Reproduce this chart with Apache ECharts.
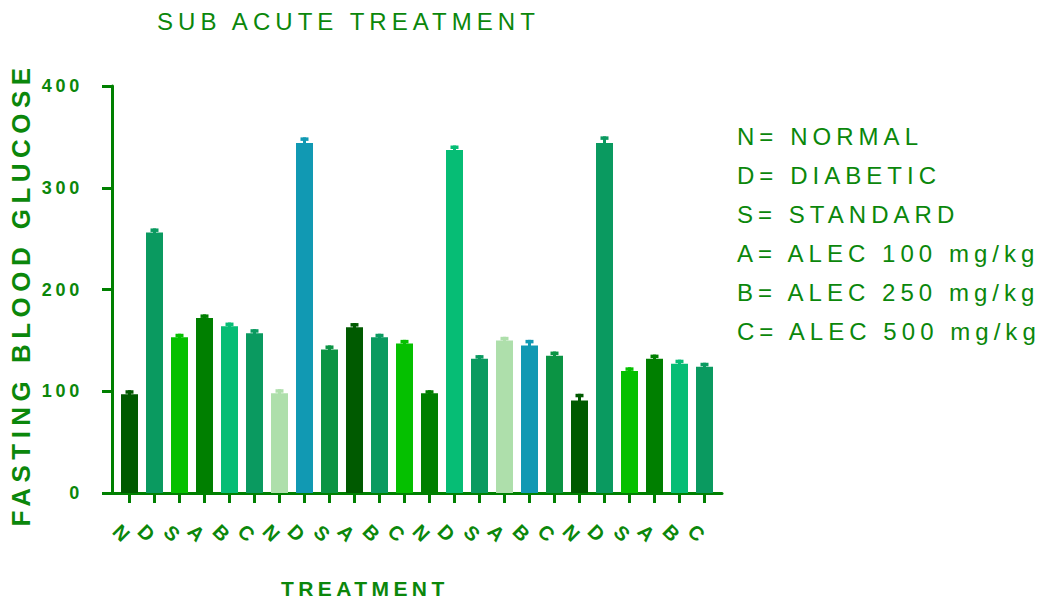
<!DOCTYPE html>
<html>
<head>
<meta charset="utf-8">
<title>Sub acute treatment – fasting blood glucose</title>
<script src="https://cdn.jsdelivr.net/npm/echarts@6/dist/echarts.min.js"></script>
<style>
  html, body { margin: 0; padding: 0; background: #ffffff; }
  #chart { width: 1040px; height: 601px; }
  /* widely tracked lettering used throughout the figure */
  #chart text { letter-spacing: 0.21em; }
</style>
</head>
<body>
<div id="chart"></div>
<script>
// Treatment groups, four blocks of six
const groups = ['N', 'D', 'S', 'A', 'B', 'C',
                'N', 'D', 'S', 'A', 'B', 'C',
                'N', 'D', 'S', 'A', 'B', 'C',
                'N', 'D', 'S', 'A', 'B', 'C'];

// Mean fasting blood glucose per group
const glucose = [97, 256, 153, 172, 164, 157,
                 98, 344, 141, 163, 153, 147,
                 98, 337, 132, 150, 145, 135,
                 91, 344, 120, 132, 127, 124];

// Standard error of each mean
const sem = [4, 4, 3.5, 3.5, 3.5, 4,
             4, 5.5, 4, 4, 3.5, 3.5,
             3, 4.5, 3.5, 3.5, 5.5, 4,
             6.5, 6.5, 3.5, 4, 4, 4];

const yTicks = [0, 100, 200, 300, 400];

const keyLines = ['N= NORMAL', 'D= DIABETIC', 'S= STANDARD',
                  'A= ALEC 100 mg/kg', 'B= ALEC 250 mg/kg', 'C= ALEC 500 mg/kg'];

// Repeating bar colour cycle
const palette = ['#005a00', '#0a9a60', '#05c000', '#007f00', '#06bd75',
                 '#0a9a60', '#aedfab', '#1199b3', '#0b9444'];

const AXIS = '#008000';
const TEXT = '#0b870b';
const FONT = 'Liberation Sans';

const colorOf = i => palette[i % palette.length];

const chart = echarts.init(document.getElementById('chart'), null, { renderer: 'svg' });

chart.setOption({
  animation: false,
  backgroundColor: '#ffffff',
  textStyle: { fontFamily: FONT },
  title: [
    {
      text: 'SUB ACUTE TREATMENT',
      left: 157, top: 9, padding: 0,
      textStyle: { color: TEXT, fontSize: 24, fontWeight: 'normal', fontFamily: FONT }
    },
    {
      text: 'TREATMENT',
      left: 281, top: 578, padding: 0,
      textStyle: { color: TEXT, fontSize: 21, fontWeight: 'bold', fontFamily: FONT }
    },
    {
      text: keyLines.join('\n'),
      left: 737, top: 117, padding: 0,
      textStyle: { color: TEXT, fontSize: 24, fontWeight: 'normal', lineHeight: 39, fontFamily: FONT }
    }
  ],
  grid: [
    // plotting area for the bars (category bands)
    { left: 117, width: 600, top: 86, height: 407 },
    // frame carrying the axis lines, slightly wider than the bands
    { left: 112, width: 610, top: 86, height: 407 }
  ],
  xAxis: [
    {
      gridIndex: 0,
      type: 'category',
      data: groups,
      axisLine: { show: false },
      axisTick: { show: true, alignWithLabel: true, length: 10, lineStyle: { color: AXIS, width: 3 } },
      axisLabel: {
        interval: 0, rotate: -45, margin: 48,
        align: 'right', verticalAlign: 'middle',
        color: TEXT, fontSize: 20, fontWeight: 'bold', fontFamily: FONT
      },
      splitLine: { show: false }
    },
    {
      gridIndex: 1,
      type: 'value', min: 0, max: 1,
      axisLine: { show: true, lineStyle: { color: AXIS, width: 3 } },
      axisTick: { show: false },
      axisLabel: { show: false },
      splitLine: { show: false }
    }
  ],
  yAxis: [
    {
      gridIndex: 0,
      type: 'value', min: 0, max: 400,
      show: false
    },
    {
      gridIndex: 1,
      type: 'value', min: 0, max: 400, interval: 100,
      name: 'FASTING BLOOD GLUCOSE',
      nameLocation: 'middle', nameGap: 78,
      nameTextStyle: { color: TEXT, fontSize: 26, fontWeight: 'bold', fontFamily: FONT, padding: [0, 10, 0, 0] },
      axisLine: { show: true, lineStyle: { color: AXIS, width: 3 } },
      axisTick: { show: true, length: 10, lineStyle: { color: AXIS, width: 3 } },
      axisLabel: {
        margin: 29, color: TEXT, fontSize: 18, fontWeight: 'bold', fontFamily: FONT,
        formatter: v => (yTicks.indexOf(v) >= 0 ? String(v) : '')
      },
      splitLine: { show: false }
    }
  ],
  series: [
    {
      type: 'bar',
      xAxisIndex: 0, yAxisIndex: 0,
      barWidth: 17,
      data: glucose.map((v, i) => ({ value: v, itemStyle: { color: colorOf(i) } }))
    },
    {
      // SEM whiskers: short stem with a cap above each bar
      type: 'custom',
      xAxisIndex: 0, yAxisIndex: 0,
      data: glucose.map((v, i) => [i, v, sem[i]]),
      renderItem: (params, api) => {
        const i = api.value(0);
        const base = api.coord([i, api.value(1)]);
        const top = api.coord([i, api.value(1) + api.value(2)]);
        const color = colorOf(i);
        return {
          type: 'group',
          children: [
            {
              type: 'rect',
              shape: { x: base[0] - 1.5, y: top[1], width: 3, height: base[1] - top[1] + 1 },
              style: { fill: color }
            },
            {
              type: 'rect',
              shape: { x: base[0] - 4, y: top[1], width: 8, height: 3.5 },
              style: { fill: color }
            }
          ]
        };
      }
    }
  ]
});
</script>
</body>
</html>
